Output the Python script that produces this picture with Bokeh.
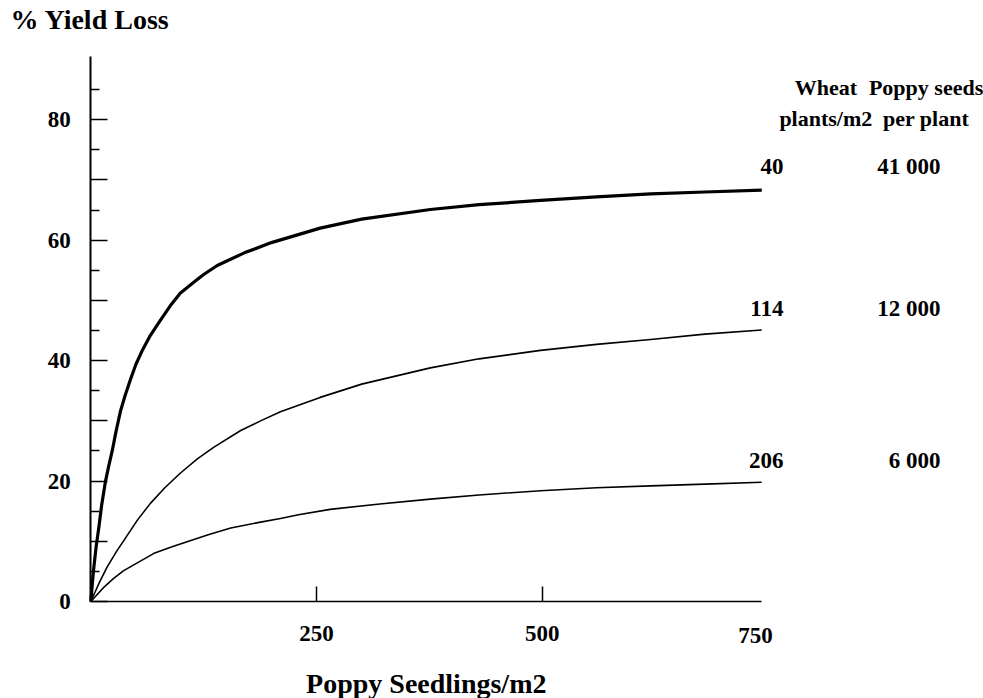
from bokeh.plotting import figure
from bokeh.models import Range1d, FixedTicker, Label, LinearAxis
from bokeh.embed import file_html
from bokeh.resources import INLINE

# Poppy seedling density (per m2) vs. % wheat yield loss, one curve per wheat density
x_wheat_40 = [0, 2, 3.4, 6, 8.9, 12, 16.3, 20, 23.7, 28, 33, 38, 44, 50, 57, 66, 77, 88, 99,
              114, 125, 140, 170, 200, 254, 300, 376, 430, 498, 560, 620, 680, 743]
y_wheat_40 = [0, 3.5, 5.7, 9.2, 12.3, 16.0, 20.0, 22.6, 25.0, 28.3, 31.7, 34.2, 36.9, 39.4, 41.7,
              44.2, 46.7, 49.1, 51.2, 53.0, 54.3, 55.8, 57.9, 59.6, 62.0, 63.5, 65.1, 65.9, 66.6,
              67.2, 67.7, 68.0, 68.3]

x_wheat_114 = [0, 9, 18, 28, 40, 52, 66, 82, 99, 118, 136, 166, 188, 210, 254, 300, 376, 430,
               498, 560, 620, 680, 743]
y_wheat_114 = [0, 3.0, 5.7, 8.2, 10.9, 13.6, 16.3, 18.9, 21.3, 23.7, 25.6, 28.4, 30.0, 31.5,
               33.9, 36.1, 38.8, 40.3, 41.7, 42.7, 43.5, 44.4, 45.1]

x_wheat_206 = [0, 14, 25, 36, 50, 70, 90, 110, 130, 155, 185, 210, 230, 265, 320, 376, 430,
               498, 560, 620, 680, 743]
y_wheat_206 = [0, 2.3, 3.8, 5.1, 6.3, 8.0, 9.1, 10.1, 11.1, 12.2, 13.1, 13.8, 14.4, 15.3, 16.2,
               17.0, 17.7, 18.4, 18.9, 19.2, 19.5, 19.8]

wheat_labels = ["40", "114", "206"]
seed_labels = ["41 000", "12 000", "6 000"]
label_y = [72.2, 48.7, 23.4]

y_ticks = [0, 10, 20, 30, 40, 50, 60, 70, 80]
y_minor = [5, 15, 25, 35, 45, 55, 65, 75, 85]
x_ticks = [250, 500]

FONT = "Liberation Serif"

# The frame fills the whole canvas; the axes sit at x=0 / y=0 inside it
p = figure(width=983, height=698, x_range=Range1d(-100, 988.6), y_range=Range1d(-16.1, 99.8),
           x_axis_location=None, y_axis_location=None, min_border=0,
           output_backend="svg", toolbar_location=None)
p.outline_line_color = None
p.xgrid.visible = False
p.ygrid.visible = False
p.background_fill_color = "white"
p.border_fill_color = "white"

# y axis: long ticks every 10, short every 5, pointing into the plot
ya = LinearAxis(fixed_location=0, bounds=(0, 90.5))
ya.ticker = FixedTicker(ticks=y_ticks, minor_ticks=y_minor)
ya.major_label_overrides = {10: "", 30: "", 50: "", 70: ""}
ya.axis_line_width = 2
ya.axis_line_color = "black"
ya.major_tick_in = 17
ya.major_tick_out = 0
ya.minor_tick_in = 9
ya.minor_tick_out = 0
ya.major_tick_line_width = 1.5
ya.minor_tick_line_width = 1.5
ya.major_label_standoff = 20
ya.major_label_text_font = FONT
ya.major_label_text_font_style = "bold"
ya.major_label_text_font_size = "23px"
ya.major_label_text_color = "black"
p.add_layout(ya, "left")

xa = LinearAxis(fixed_location=0, bounds=(0, 743))
xa.ticker = FixedTicker(ticks=x_ticks, minor_ticks=[])
xa.axis_line_width = 1.5
xa.axis_line_color = "black"
xa.major_tick_in = 15
xa.major_tick_out = 0
xa.major_tick_line_width = 1.5
xa.minor_tick_line_color = None
xa.major_label_standoff = 24
xa.major_label_text_font = FONT
xa.major_label_text_font_style = "bold"
xa.major_label_text_font_size = "23px"
xa.major_label_text_color = "black"
p.add_layout(xa, "below")

p.line(x_wheat_40, y_wheat_40, line_color="black", line_width=3.2, line_join="round")
p.line(x_wheat_114, y_wheat_114, line_color="black", line_width=1.6, line_join="round")
p.line(x_wheat_206, y_wheat_206, line_color="black", line_width=1.6, line_join="round")


def add_text(x, y, text, size="23px", align="left"):
    p.add_layout(Label(x=x, y=y, text=text, text_font=FONT, text_font_style="bold",
                       text_font_size=size, text_color="black",
                       text_align=align, text_baseline="middle"))


add_text(736, -5.6, "750", align="center")
add_text(-88.9, 96.6, "% Yield Loss", size="28px")
add_text(371.5, -13.6, "Poppy Seedlings/m2", size="28px", align="center")

# column headers on the right
add_text(814, 85.4, "Wheat", size="22px", align="center")
add_text(814, 80.2, "plants/m2", size="22px", align="center")
add_text(925, 85.4, "Poppy seeds", size="22px", align="center")
add_text(925, 80.2, "per plant", size="22px", align="center")

for w, s, yy in zip(wheat_labels, seed_labels, label_y):
    add_text(767, yy, w, align="right")
    add_text(941, yy, s, align="right")

open("out.html", "w").write(file_html(p, INLINE))
